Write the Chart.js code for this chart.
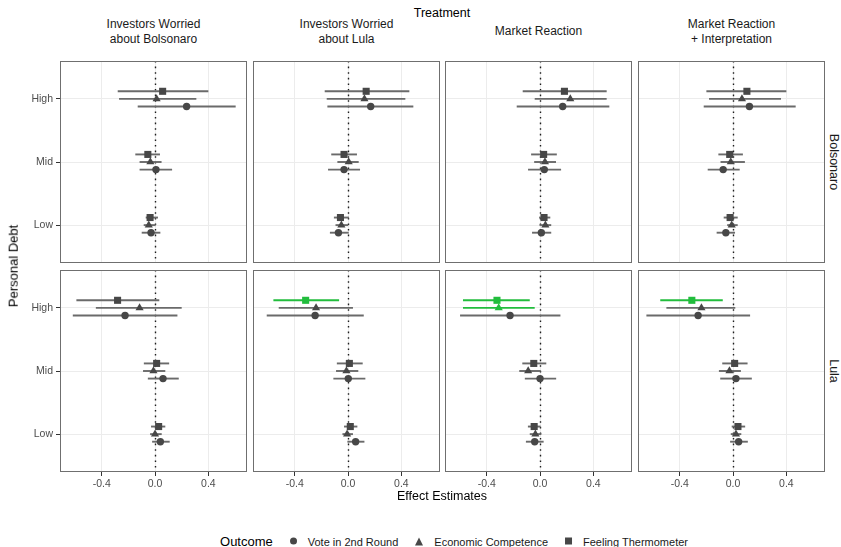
<!DOCTYPE html>
<html>
<head>
<meta charset="utf-8">
<script src="https://cdn.jsdelivr.net/npm/chart.js@4.4.1/dist/chart.umd.min.js"></script>
<style>
  body { margin: 0; background: #fff; }
  #wrap { position: relative; width: 841px; height: 547px; overflow: hidden;
          font-family: "Liberation Sans", Arial, sans-serif; color: #1a1a1a; }
  #wrap canvas { position: absolute; }
  .txt { position: absolute; white-space: pre; text-align: center; line-height: 1.28; }
  .legend { position: absolute; display: flex; align-items: center; white-space: nowrap; }
</style>
</head>
<body>
<div id="wrap"></div>
<script>
// ---- facets and categories ----
const treatments = ["Investors Worried\nabout Bolsonaro", "Investors Worried\nabout Lula",
                    "Market Reaction", "Market Reaction\n+ Interpretation"];
const candidates = ["Bolsonaro", "Lula"];
const debtLevels = ["Low", "Mid", "High"];
const outcomes = ["Vote in 2nd Round", "Economic Competence", "Feeling Thermometer"];
const xTicks = [-0.4, 0.0, 0.4];

// ---- estimates: [candidate][treatment][Low, Mid, High] ----
const voteEst = [
  [[-0.030, 0.007, 0.237], [-0.072, -0.030, 0.170], [0.010, 0.032, 0.170], [-0.054, -0.074, 0.123]],
  [[0.040, 0.060, -0.225], [0.057, 0.002, -0.247], [-0.040, 0.000, -0.225], [0.042, 0.022, -0.262]]
];
const voteLo = [
  [[-0.100, -0.116, -0.130], [-0.136, -0.150, -0.155], [-0.060, -0.090, -0.175], [-0.123, -0.190, -0.220]],
  [[-0.022, -0.054, -0.617], [-0.005, -0.110, -0.610], [-0.106, -0.114, -0.600], [-0.022, -0.096, -0.650]]
];
const voteHi = [
  [[0.040, 0.128, 0.605], [0.005, 0.090, 0.490], [0.084, 0.158, 0.520], [0.015, 0.050, 0.470]],
  [[0.110, 0.178, 0.168], [0.123, 0.130, 0.118], [0.027, 0.121, 0.153], [0.111, 0.141, 0.128]]
];

const econEst = [
  [[-0.047, -0.035, 0.012], [-0.050, 0.005, 0.123], [0.040, 0.037, 0.227], [-0.010, -0.017, 0.067]],
  [[0.000, -0.012, -0.116], [-0.007, -0.012, -0.240], [-0.035, -0.089, -0.310], [0.022, -0.027, -0.237]]
];
const econLo = [
  [[-0.085, -0.116, -0.270], [-0.094, -0.080, -0.160], [-0.004, -0.044, -0.040], [-0.044, -0.094, -0.180]],
  [[-0.037, -0.090, -0.444], [-0.042, -0.090, -0.520], [-0.077, -0.156, -0.578], [-0.017, -0.106, -0.500]]
];
const econHi = [
  [[0.005, 0.049, 0.310], [0.002, 0.080, 0.430], [0.084, 0.120, 0.500], [0.035, 0.089, 0.360]],
  [[0.050, 0.077, 0.200], [0.037, 0.077, 0.037], [0.010, 0.005, -0.040], [0.062, 0.059, 0.017]]
];

const feelEst = [
  [[-0.037, -0.054, 0.057], [-0.057, -0.030, 0.136], [0.030, 0.027, 0.183], [-0.022, -0.025, 0.104]],
  [[0.027, 0.012, -0.281], [0.017, 0.010, -0.318], [-0.044, -0.047, -0.323], [0.037, 0.012, -0.309]]
];
const feelLo = [
  [[-0.070, -0.148, -0.280], [-0.106, -0.126, -0.175], [-0.007, -0.067, -0.130], [-0.070, -0.110, -0.200]],
  [[-0.030, -0.084, -0.590], [-0.030, -0.084, -0.560], [-0.091, -0.133, -0.578], [-0.010, -0.081, -0.546]]
];
const feelHi = [
  [[0.022, 0.037, 0.400], [0.007, 0.067, 0.460], [0.077, 0.126, 0.500], [0.035, 0.074, 0.400]],
  [[0.077, 0.106, 0.032], [0.070, 0.110, -0.067], [0.004, 0.047, -0.077], [0.091, 0.109, -0.077]]
];

// ---- appearance ----
const series = [
  { est: voteEst, lo: voteLo, hi: voteHi, shape: "circle",   radius: 3.7 },
  { est: econEst, lo: econLo, hi: econHi, shape: "triangle", radius: 4.7 },
  { est: feelEst, lo: feelLo, hi: feelHi, shape: "rect",     radius: 5.0 }
];
const dodge = [-0.12, 0, 0.12];          // vertical offsets of the three outcomes
const POINT_GREY = "#474747";
const LINE_GREY = "#6a6a6a";
const SIG_GREEN = "#22bd3d";
const GRID = "#ececec";

const colLeft = [60, 253, 445, 638];
const rowTop = [61, 270];
const PW = 187, PH = 202;
const X_MIN = -0.713, X_MAX = 0.690;
const Y_MIN = 0.4, Y_MAX = 3.6;
const LEFT_AXIS = 60, BOTTOM_AXIS = 26;

const wrap = document.getElementById("wrap");

function addText(text, cx, cy, size, opts = {}) {
  const d = document.createElement("div");
  d.className = "txt";
  d.textContent = text;
  d.style.fontSize = size + "px";
  d.style.left = cx + "px";
  d.style.top = cy + "px";
  d.style.color = opts.color || "#1a1a1a";
  d.style.transform = "translate(-50%,-50%)" + (opts.rot ? " rotate(" + opts.rot + "deg)" : "");
  wrap.appendChild(d);
  return d;
}

// panel frame and the dotted reference line at zero
const framePlugin = {
  id: "frame",
  beforeDatasetsDraw(chart) {
    const { ctx, chartArea: a, scales } = chart;
    const x0 = Math.round(scales.x.getPixelForValue(0)) + 0.5;
    ctx.save();
    ctx.strokeStyle = "#1e1e1e";
    ctx.lineWidth = 1.4;
    ctx.setLineDash([1.6, 4]);
    ctx.beginPath();
    ctx.moveTo(x0, a.top);
    ctx.lineTo(x0, a.bottom);
    ctx.stroke();
    ctx.restore();
  },
  afterDraw(chart) {
    const { ctx, chartArea: a } = chart;
    ctx.save();
    ctx.strokeStyle = "#6f6f6f";
    ctx.lineWidth = 1;
    ctx.strokeRect(a.left + 0.5, a.top + 0.5, a.right - a.left - 1, a.bottom - a.top - 1);
    ctx.restore();
  }
};

function significant(lo, hi) { return hi < 0 || lo > 0; }

function fixedSize(prop, size) {
  return s => {
    s[prop] = size;
    s.paddingTop = 0; s.paddingBottom = 0; s.paddingLeft = 0; s.paddingRight = 0;
  };
}

function buildPanel(r, c) {
  const extraL = c === 0 ? LEFT_AXIS : 0;
  const extraB = r === 1 ? BOTTOM_AXIS : 0;
  const cv = document.createElement("canvas");
  const w = PW + extraL, h = PH + extraB;
  cv.width = w; cv.height = h;
  cv.style.width = w + "px"; cv.style.height = h + "px";
  cv.style.left = (colLeft[c] - extraL) + "px";
  cv.style.top = rowTop[r] + "px";
  wrap.appendChild(cv);

  const datasets = [];
  series.forEach((s, k) => {
    const pts = [], cols = [];
    debtLevels.forEach((lvl, j) => {
      const y = j + 1 + dodge[k];
      const lo = s.lo[r][c][j], hi = s.hi[r][c][j], est = s.est[r][c][j];
      const sig = significant(lo, hi);
      datasets.push({
        type: "line",
        data: [{ x: lo, y: y }, { x: hi, y: y }],
        borderColor: sig ? SIG_GREEN : LINE_GREY,
        borderWidth: 1.9,
        pointRadius: 0,
        order: 2
      });
      pts.push({ x: est, y: y });
      cols.push(sig ? SIG_GREEN : POINT_GREY);
    });
    datasets.push({
      type: "scatter",
      label: outcomes[k],
      data: pts,
      pointStyle: s.shape,
      pointRadius: s.radius,
      pointBackgroundColor: cols,
      pointBorderWidth: 0,
      order: 1
    });
  });

  new Chart(cv, {
    data: { datasets },
    plugins: [framePlugin],
    options: {
      responsive: false,
      animation: false,
      devicePixelRatio: 1,
      layout: { padding: 0, autoPadding: false },
      plugins: { legend: { display: false }, tooltip: { enabled: false } },
      scales: {
        x: {
          type: "linear", min: X_MIN, max: X_MAX,
          afterBuildTicks: s => { s.ticks = xTicks.map(v => ({ value: v })); },
          afterFit: fixedSize("height", extraB),
          border: { display: false },
          grid: { color: GRID, lineWidth: 1, drawTicks: r === 1, tickLength: 4, tickColor: "#333333" },
          ticks: {
            display: r === 1, padding: 2, color: "#4d4d4d",
            font: { family: "Liberation Sans", size: 10.5 },
            callback: v => v.toFixed(1)
          }
        },
        y: {
          type: "linear", min: Y_MIN, max: Y_MAX,
          afterBuildTicks: s => { s.ticks = debtLevels.map((_, j) => ({ value: j + 1 })); },
          afterFit: fixedSize("width", extraL),
          border: { display: false },
          grid: { color: GRID, lineWidth: 1, drawTicks: c === 0, tickLength: 4, tickColor: "#333333" },
          ticks: {
            display: c === 0, padding: 3, color: "#4d4d4d",
            font: { family: "Liberation Sans", size: 10.5 },
            callback: v => debtLevels[Math.round(v) - 1]
          }
        }
      }
    }
  });
}

candidates.forEach((_, r) => treatments.forEach((_, c) => buildPanel(r, c)));

// ---- strip labels, axis titles ----
addText("Treatment", 442, 13, 12.5, { color: "#000" });
treatments.forEach((t, c) => addText(t, colLeft[c] + PW / 2, 32, 12));
candidates.forEach((cand, r) => addText(cand, 834, rowTop[r] + PH / 2, 12.5, { rot: 90 }));
addText("Personal Debt", 14, 266, 13, { rot: -90, color: "#000" });
addText("Effect Estimates", 442, 496, 12.5, { color: "#000" });

// ---- legend ----
const leg = document.createElement("div");
leg.className = "legend";
leg.style.left = "454px";
leg.style.top = "541px";
leg.style.transform = "translate(-50%,-50%)";
const title = document.createElement("span");
title.textContent = "Outcome";
title.style.fontSize = "13px";
title.style.color = "#000";
title.style.marginRight = "17px";
leg.appendChild(title);
const shapeCss = [
  "width:7px;height:7px;border-radius:50%;background:" + POINT_GREY,
  "width:0;height:0;border-left:4.5px solid transparent;border-right:4.5px solid transparent;border-bottom:8px solid " + POINT_GREY,
  "width:7px;height:7px;background:" + POINT_GREY
];
outcomes.forEach((o, k) => {
  const sym = document.createElement("span");
  sym.style.cssText = "display:inline-block;margin-right:11px;" + shapeCss[k];
  leg.appendChild(sym);
  const lab = document.createElement("span");
  lab.textContent = o;
  lab.style.fontSize = "11px";
  lab.style.marginRight = k < 2 ? "17px" : "0";
  leg.appendChild(lab);
});
wrap.appendChild(leg);
</script>
</body>
</html>
